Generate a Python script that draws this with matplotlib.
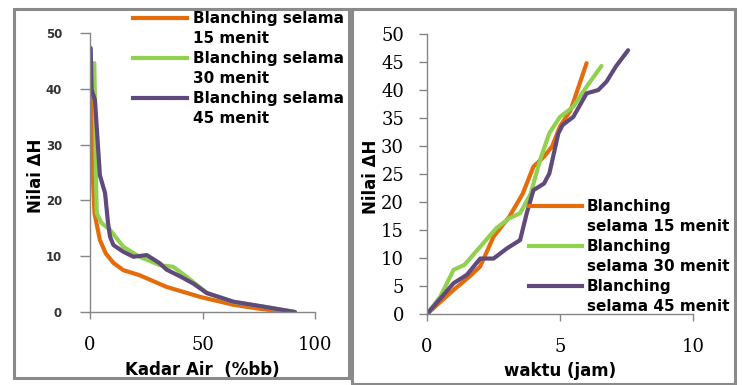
import matplotlib
matplotlib.use("Agg")
import matplotlib.pyplot as plt
from matplotlib.lines import Line2D
from matplotlib.patches import Rectangle

# ---------------- data ----------------
series_names = ["15 menit", "30 menit", "45 menit"]
colors = ["#E46C0A", "#92D050", "#604A7B"]

# left panel: Kadar Air (%bb) vs Nilai dH
ka15_x = [0.5, 0.8, 1.2, 2.0, 4.4, 7.0, 10.4, 14.8, 22.0, 34.0, 49.0, 63.7, 75.0, 88.0]
ka15_y = [44.8, 39.8, 25.0, 17.7, 12.9, 10.5, 8.8, 7.5, 6.6, 4.5, 2.7, 1.3, 0.6, 0.0]

ka30_x = [1.9, 2.2, 2.6, 3.0, 5.0, 8.9, 14.8, 22.0, 31.0, 37.0, 43.0, 52.0, 63.7, 78.0, 91.0]
ka30_y = [44.6, 38.0, 25.0, 17.7, 16.0, 14.7, 11.7, 9.9, 8.4, 8.1, 6.3, 3.4, 1.8, 0.9, 0.0]

ka45_x = [0.3, 0.7, 2.2, 3.5, 4.4, 6.7, 8.0, 8.9, 10.4, 14.8, 19.3, 25.2, 28.0, 31.1, 34.0,
          40.0, 45.9, 51.9, 63.7, 78.0, 91.1]
ka45_y = [47.3, 39.8, 38.0, 30.0, 24.5, 21.3, 16.0, 13.5, 12.0, 10.8, 9.9, 10.2, 9.5, 8.7, 7.6,
          6.4, 5.1, 3.4, 1.85, 0.9, 0.0]

# right panel: waktu (jam) vs Nilai dH
t15_x = [0.0, 1.0, 1.6, 2.0, 2.5, 3.1, 3.6, 4.0, 4.4, 4.7, 5.0, 5.4, 6.0]
t15_y = [0.0, 4.3, 6.7, 8.5, 13.8, 17.4, 21.5, 26.3, 28.1, 29.9, 33.5, 36.4, 44.8]

t30_x = [0.0, 0.5, 1.0, 1.4, 2.0, 2.6, 3.1, 3.5, 3.9, 4.25, 4.6, 5.0, 5.5, 6.0, 6.56]
t30_y = [0.0, 3.1, 7.9, 8.75, 12.0, 15.3, 17.1, 18.0, 21.5, 27.5, 32.3, 35.2, 37.0, 40.6, 44.3]

t45_x = [0.0, 1.0, 1.5, 2.0, 2.5, 3.0, 3.5, 3.75, 4.0, 4.4, 4.6, 4.94, 5.1, 5.5, 6.0, 6.44,
         6.75, 7.1, 7.56]
t45_y = [0.0, 5.5, 7.0, 9.9, 9.9, 11.7, 13.2, 18.0, 22.1, 23.3, 25.1, 32.3, 33.75, 35.2, 39.4,
         40.0, 41.5, 44.2, 47.1]

left_xticks = [0, 50, 100]
left_yticks = [0, 10, 20, 30, 40, 50]
right_xticks = [0, 5, 10]
right_yticks = [0, 5, 10, 15, 20, 25, 30, 35, 40, 45, 50]

# ---------------- figure ----------------
W, H = 743, 385
fig = plt.figure(figsize=(W / 100, H / 100), dpi=100)

def rect(l, r, b, t):
    return [l / W, 1 - b / H, (r - l) / W, (b - t) / H]

# panel borders
for (l, t, r, b) in [(13.5, 8.5, 349, 378), (351.5, 8.5, 735, 384)]:
    fig.patches.append(Rectangle((l / W, 1 - b / H), (r - l) / W, (b - t) / H,
                                 transform=fig.transFigure, fill=False,
                                 edgecolor="#8a8a8a", lw=2.2, zorder=0))

ax1 = fig.add_axes(rect(90, 315, 312, 33))
ax2 = fig.add_axes(rect(427, 693, 314, 34))

SANS = ["DejaVu Sans"]
SERIF = ["DejaVu Serif"]
LW = 3.0
spine_c = "#868686"

for ax in (ax1, ax2):
    for s in ("top", "right"):
        ax.spines[s].set_visible(False)
    for s in ("left", "bottom"):
        ax.spines[s].set_color(spine_c)
        ax.spines[s].set_linewidth(1.0)
    ax.tick_params(colors=spine_c, width=1.0, labelcolor="black")
    ax.set_facecolor("none")

# left panel
for xs, ys, c in zip([ka15_x, ka30_x, ka45_x], [ka15_y, ka30_y, ka45_y], colors):
    ax1.plot(xs, ys, color=c, lw=LW, solid_joinstyle="round", solid_capstyle="round")
ax1.set_xlim(0, 100)
ax1.set_ylim(0, 50)
ax1.set_xticks(left_xticks)
ax1.set_yticks(left_yticks)
ax1.tick_params(axis="y", length=7.2, pad=13, labelsize=8.5)
ax1.tick_params(axis="x", length=5, pad=12.5, labelsize=13)
for lb in ax1.get_yticklabels():
    lb.set_fontfamily(SANS); lb.set_fontweight("bold"); lb.set_color("#333333")
for lb in ax1.get_xticklabels():
    lb.set_fontfamily(SERIF)
ax1.set_xlabel("Kadar Air  (%bb)", fontfamily=SANS, fontweight="bold", fontsize=12)
ax1.xaxis.set_label_coords(0.5, (312 - 370) / 279)
ax1.xaxis.label.set_va("center")
ax1.set_ylabel("Nilai ΔH", fontfamily=SANS, fontweight="bold", fontsize=12)
ax1.yaxis.set_label_coords((36 - 90) / 225, (312 - 176) / 279)
ax1.yaxis.label.set_va("center")

# right panel
for xs, ys, c in zip([t15_x, t30_x, t45_x], [t15_y, t30_y, t45_y], colors):
    ax2.plot(xs, ys, color=c, lw=LW, solid_joinstyle="round", solid_capstyle="round")
ax2.set_xlim(0, 10)
ax2.set_ylim(0, 50)
ax2.set_xticks(right_xticks)
ax2.set_yticks(right_yticks)
ax2.tick_params(axis="y", length=6, pad=10.5, labelsize=13)
ax2.tick_params(axis="x", length=5, pad=12.5, labelsize=13)
for lb in ax2.get_yticklabels() + ax2.get_xticklabels():
    lb.set_fontfamily(SERIF)
ax2.set_xlabel("waktu (jam)", fontfamily=SANS, fontweight="bold", fontsize=12)
ax2.xaxis.set_label_coords(0.5, (314 - 371) / 280)
ax2.xaxis.label.set_va("center")
ax2.set_ylabel("Nilai ΔH", fontfamily=SANS, fontweight="bold", fontsize=12)
ax2.yaxis.set_label_coords((371 - 427) / 266, (314 - 177) / 280)
ax2.yaxis.label.set_va("center")
ax2.yaxis.label.set_zorder(0)

# legends
blank = Line2D([], [], color="none")
def legend_handles():
    return [Line2D([], [], color=colors[0], lw=LW), blank,
            Line2D([], [], color=colors[1], lw=LW), blank,
            Line2D([], [], color=colors[2], lw=LW), blank]

left_labels = []
for n in series_names:
    left_labels += ["Blanching selama", n]
right_labels = []
for n in series_names:
    right_labels += ["Blanching", "selama " + n]

FS_LEG = 11
fs_px = FS_LEG * 100 / 72
LSP = 0.33
leg1 = fig.legend(legend_handles(), left_labels, loc="upper left",
                  bbox_to_anchor=(133 / W, 1 - 11 / H), bbox_transform=fig.transFigure,
                  frameon=False, borderpad=0, borderaxespad=0, labelspacing=LSP,
                  handlelength=54 / fs_px, handletextpad=6 / fs_px,
                  prop={"family": SANS, "weight": "bold", "size": FS_LEG})
leg2 = fig.legend(legend_handles(), right_labels, loc="upper left",
                  bbox_to_anchor=(529 / W, 1 - 199 / H), bbox_transform=fig.transFigure,
                  frameon=False, borderpad=0, borderaxespad=0, labelspacing=LSP,
                  handlelength=53 / fs_px, handletextpad=5 / fs_px,
                  prop={"family": SANS, "weight": "bold", "size": FS_LEG})

fig.savefig("out.png", dpi=100)
